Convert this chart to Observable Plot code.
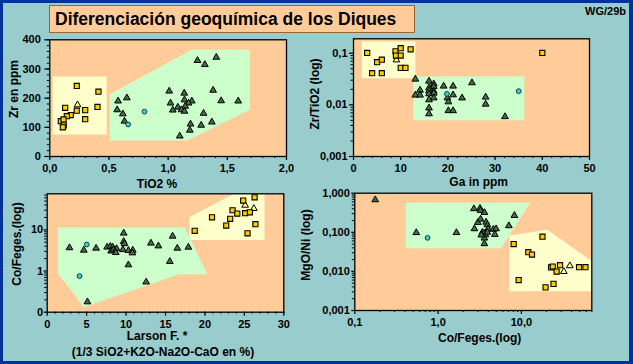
<!DOCTYPE html>
<html><head><meta charset="utf-8">
<script src="https://cdn.jsdelivr.net/npm/d3@7"></script>
<script src="https://cdn.jsdelivr.net/npm/@observablehq/plot@0.6"></script>
<style>
html,body{margin:0;padding:0;}
body{width:633px;height:364px;background:#003399;overflow:hidden;position:relative;}
#wrap{position:absolute;left:3px;top:3px;width:626px;height:358px;background:#99cccc;}
#chart{position:absolute;left:0;top:0;width:633px;height:364px;}
#chart svg{position:absolute;left:0;top:0;}
.lbl{position:absolute;font:bold 12px "Liberation Sans",Arial,sans-serif;color:#000;white-space:nowrap;transform:translate(-50%,-50%);}
.rot{transform:translate(-50%,-50%) rotate(-90deg);}
#title{position:absolute;left:49px;top:5px;width:359px;height:26px;background:#ffcc99;border:1.5px solid #996633;font:bold 17.5px "Liberation Sans",Arial,sans-serif;line-height:26px;padding-left:5px;box-sizing:content-box;white-space:nowrap;}
#code{position:absolute;right:7px;top:5px;font:bold 11px "Liberation Sans",Arial,sans-serif;}
</style>
</head><body>
<div id="wrap"></div>
<div id="title">Diferenciación geoquímica de los Diques</div>
<div id="code">WG/29b</div>
<div id="chart"></div>
<script>
// ---------- Panel 1: TiO2 % vs Zr ppm ----------
const p1Triangles = [[1.248,329],[1.407,340],[1.310,315],[1.009,224],[1.136,217],[1.380,227],[1.448,191],[1.592,190],[1.138,194],[1.020,183],[1.200,190],[1.172,183],[1.082,169],[1.144,172],[1.039,159],[1.113,160],[1.138,155],[1.299,148],[1.189,111],[1.279,107],[1.369,118],[1.183,90],[1.098,70],[0.577,190],[0.651,201],[0.569,160],[0.617,146],[0.631,121]];
const p1Squares = [[0.228,242],[0.411,222],[0.130,167],[0.403,170],[0.228,157],[0.299,159],[0.177,142],[0.144,138],[0.299,128],[0.093,121],[0.116,127],[0.118,107],[0.110,100]];
const p1LightTri = [[0.234,177]];
const p1Cyan = [[0.80,154],[0.662,110]];
const p1Green = [[0.507,55],[1.16,55],[1.69,160],[1.69,366],[1.20,366],[0.507,213]];
const p1Yellow = [[0.025,75],[0.48,75],[0.48,274],[0.025,274]];
const p1XTicks = [0,0.5,1,1.5,2];
const p1XLabels = ["0,0","0,5","1,0","1,5","2,0"];
const p1YTicks = [0,100,200,300,400];
const p1YLabels = ["0","100","200","300","400"];

// ---------- Panel 2: Ga ppm vs Zr/TiO2 ----------
const p2Triangles = [[13.1,0.0314],[16.0,0.0287],[17.0,0.0255],[17.0,0.0226],[19.1,0.0230],[21.1,0.0230],[25.1,0.0267],[16.0,0.0213],[14.1,0.0192],[16.0,0.0187],[17.0,0.0184],[16.0,0.0163],[13.1,0.0154],[14.1,0.0154],[17.0,0.0168],[17.0,0.0136],[21.1,0.0156],[19.9,0.0136],[23.0,0.0136],[28.0,0.0141],[20.1,0.0114],[28.0,0.0103],[16.0,0.0125],[16.0,0.0087],[20.1,0.0077],[21.1,0.0077],[16.0,0.0067],[32.1,0.0059]];
const p2Squares = [[2.9,0.101],[5.0,0.067],[6.0,0.075],[3.95,0.041],[6.0,0.041],[8.9,0.109],[9.0,0.090],[10.0,0.125],[10.0,0.090],[12.1,0.119],[10.0,0.052],[11.0,0.052],[40.0,0.101]];
const p2LightTri = [[9.1,0.074]];
const p2Cyan = [[19.8,0.0163],[35.0,0.0184]];
const p2Green = [[12.7,0.00504],[36.2,0.00504],[36.2,0.0353],[12.7,0.0353]];
const p2Yellow = [[1.77,0.0328],[13.1,0.0328],[13.1,0.168],[1.77,0.168]];
const p2XTicks = [0,10,20,30,40,50];
const p2XLabels = ["0","10","20","30","40","50"];
const p2YTicks = [0.001,0.01,0.1];
const p2YLabels = ["0,001","0,01","0,1"];

// ---------- Panel 3: Larson F. vs Co/Feges ----------
const p3Triangles = [[2.83,3.67],[4.64,3.2],[6.2,3.57],[7.6,3.8],[8.0,3.95],[8.3,3.8],[8.1,3.05],[8.4,3.3],[8.8,3.5],[8.7,2.8],[9.6,3.3],[9.7,5.2],[9.8,4.6],[9.7,8.3],[10.3,3.15],[10.85,3.2],[10.8,2.75],[13.15,4.75],[14.1,4.06],[15.9,7.0],[16.5,3.57],[17.9,3.78],[15.55,1.70],[10.3,1.41],[12.55,0.54],[5.1,0.178]];
const p3Squares = [[24.85,51.4],[26.3,61.8],[23.5,29.9],[24.1,24.9],[25.1,25.3],[25.7,26.7],[20.9,20.2],[23.2,18.5],[22.7,12.7],[26.4,13.7],[18.7,9.46],[25.4,8.26]];
const p3LightTri = [[25.1,39.5],[26.2,32.9]];
const p3Cyan = [[4.1,0.75],[5.02,4.4]];
const p3Green = [[1.39,11.4],[17.45,11.4],[20.3,0.835],[16.7,0.835],[4.64,0.132],[2.74,0.405],[1.39,0.835]];
const p3Yellow = [[18.04,5.7],[27.55,5.7],[27.55,75],[23.66,75],[18.04,20.2]];
const p3XTicks = [0,5,10,15,20,25,30];
const p3XLabels = ["0","5","10","15","20","25","30"];
const p3YTicks = [0.1,1,10];
const p3YLabels = ["0","1","10"];

// ---------- Panel 4: Co/Feges vs MgO/Ni ----------
const p4Triangles = [[0.176,0.678],[0.547,0.098],[1.66,0.098],[2.69,0.40],[3.18,0.41],[3.24,0.36],[3.6,0.32],[3.0,0.178],[3.24,0.216],[3.77,0.181],[3.9,0.155],[2.73,0.123],[8.24,0.269],[7.07,0.147],[3.98,0.123],[4.6,0.119],[4.97,0.123],[3.4,0.10],[3.55,0.095],[3.7,0.086],[3.59,0.071],[3.59,0.051],[4.8,0.088],[3.3,0.085],[3.9,0.1]];
const p4Squares = [[8.07,0.050],[17.9,0.077],[12.1,0.031],[13.4,0.027],[29.1,0.0144],[22.7,0.0126],[23.8,0.0133],[26.5,0.0099],[49.2,0.0128],[58.7,0.0128],[9.27,0.0060],[19.5,0.0039],[24.3,0.0048]];
const p4LightTri = [[38.1,0.0139],[32.3,0.0099]];
const p4Cyan = [[0.748,0.072]];
const p4Green = [[0.41,0.039],[5.69,0.039],[12.8,0.568],[0.41,0.568]];
const p4Yellow = [[7.18,0.00312],[70,0.00312],[70,0.0182],[20.5,0.116],[7.18,0.0828]];
const p4XTicks = [0.1,1,10];
const p4XLabels = ["0,1","1,0","10,0"];
const p4YTicks = [0.001,0.01,0.1,1];
const p4YLabels = ["0,001","0,010","0,100","1,000"];

const COL = {peach:"#ffcc99", green:"#ccffcc", yellow:"#ffffcc", sq:"#ffcc00", tri:"#4a6a4a", light:"#ffff99", cyan:"#44cccc"};

function logMinor(lo, hi){
  const out=[];
  for(let e=Math.floor(Math.log10(lo)); e<=Math.ceil(Math.log10(hi)); e++){
    for(let m=2;m<=9;m++){const v=m*Math.pow(10,e); if(v>=lo && v<=hi) out.push(v);}
  }
  return out;
}
function linMinor(lo, hi, step){
  const out=[]; const n=Math.round((hi-lo)/step);
  for(let i=0;i<=n;i++) out.push(+(lo+i*step).toFixed(6));
  return out;
}
const X = d=>d[0], Y = d=>d[1];

function panel(o){
  const fmt = (ticks, labels) => d => { const i = ticks.findIndex(t => Math.abs(t-d) < 1e-9); return i>=0 ? labels[i] : ""; };
  return Plot.plot({
    width:633, height:364,
    marginLeft:o.m[0], marginRight:633-o.m[1], marginTop:o.m[2], marginBottom:364-o.m[3],
    x:{type:o.xType, domain:o.xDomain},
    y:{type:o.yType, domain:o.yDomain},
    style:{background:"transparent", overflow:"visible", fontFamily:"'Liberation Sans', Arial, sans-serif", fontSize:"11px", fontWeight:"bold", color:"black"},
    marks:[
      Plot.frame({fill:COL.peach, stroke:null}),
      Plot.line(o.yellow, {x:X, y:Y, fill:COL.yellow, stroke:"none"}),
      Plot.line(o.green, {x:X, y:Y, fill:COL.green, stroke:"none"}),
      Plot.axisX({ticks:o.xMinor, tickSize:2, tickFormat:()=>"", label:null}),
      Plot.axisX({ticks:o.xTicks, tickSize:o.tsx, tickPadding:o.tpx, tickFormat:fmt(o.xTicks,o.xLabels), label:null, strokeWidth:1.2}),
      Plot.axisY({ticks:o.yMinor, tickSize:2.5, tickFormat:()=>"", label:null}),
      Plot.axisY({ticks:o.yTicks, tickSize:o.tsy, tickPadding:o.tpy, tickFormat:fmt(o.yTicks,o.yLabels), label:null, strokeWidth:1.2}),
      Plot.frame({stroke:"black", strokeWidth:1.3}),
      Plot.dot(o.tri, {x:X, y:Y, symbol:"triangle", r:2.5, fill:COL.tri, stroke:"black", strokeWidth:1}),
      Plot.dot(o.light, {x:X, y:Y, symbol:"triangle", r:2.5, fill:COL.light, stroke:"black", strokeWidth:1}),
      Plot.dot(o.cyan, {x:X, y:Y, symbol:"circle", r:2.4, fill:COL.cyan, stroke:"#004444", strokeWidth:1}),
      Plot.dot(o.sq, {x:X, y:Y, symbol:"square", r:2.9, fill:COL.sq, stroke:"black", strokeWidth:1.1})
    ]
  });
}

const chart = document.getElementById("chart");
chart.append(panel({m:[49.3,286,39.3,156], xType:"linear", xDomain:[0,2], yType:"linear", yDomain:[0,400],
  xTicks:p1XTicks, xLabels:p1XLabels, yTicks:p1YTicks, yLabels:p1YLabels,
  xMinor:linMinor(0,2,0.1), yMinor:linMinor(0,400,20), tsx:4, tpx:4, tsy:5, tpy:4,
  tri:p1Triangles, sq:p1Squares, light:p1LightTri, cyan:p1Cyan, green:p1Green, yellow:p1Yellow}));
chart.append(panel({m:[353,589,38.3,156], xType:"linear", xDomain:[0,50], yType:"log", yDomain:[0.001,0.19],
  xTicks:p2XTicks, xLabels:p2XLabels, yTicks:p2YTicks, yLabels:p2YLabels,
  xMinor:linMinor(0,50,2), yMinor:logMinor(0.001,0.19), tsx:4, tpx:4, tsy:4, tpy:2,
  tri:p2Triangles, sq:p2Squares, light:p2LightTri, cyan:p2Cyan, green:p2Green, yellow:p2Yellow}));
chart.append(panel({m:[46.7,283.3,193.3,311.7], xType:"linear", xDomain:[0,30], yType:"log", yDomain:[0.1,75],
  xTicks:p3XTicks, xLabels:p3XLabels, yTicks:p3YTicks, yLabels:p3YLabels,
  xMinor:linMinor(0,30,1), yMinor:logMinor(0.1,75), tsx:4, tpx:4, tsy:3, tpy:1,
  tri:p3Triangles, sq:p3Squares, light:p3LightTri, cyan:p3Cyan, green:p3Green, yellow:p3Yellow}));
chart.append(panel({m:[354.3,591.3,192.7,310], xType:"log", xDomain:[0.1,70], yType:"log", yDomain:[0.001,1],
  xTicks:p4XTicks, xLabels:p4XLabels, yTicks:p4YTicks, yLabels:p4YLabels,
  xMinor:logMinor(0.1,70), yMinor:logMinor(0.001,1), tsx:4, tpx:4, tsy:3, tpy:2,
  tri:p4Triangles, sq:p4Squares, light:p4LightTri, cyan:p4Cyan, green:p4Green, yellow:p4Yellow}));

// axis titles
const titles = [
  ["Zr en ppm",14,89,true],["TiO2 %",157,183.5,false],
  ["Zr/TiO2 (log)",315,93.5,true],["Ga in ppm",478.7,181.7,false],
  ["Co/Feges.(log)",16.7,244,true],["Larson F. *",157,336,false],["(1/3 SiO2+K2O-Na2O-CaO en %)",163,351.7,false],
  ["MgO/Ni (log)",306,245,true],["Co/Feges.(log)",479.7,337.7,false]
];
for(const [t,x,y,r] of titles){
  const d=document.createElement("div"); d.className="lbl"+(r?" rot":""); d.textContent=t;
  d.style.left=x+"px"; d.style.top=y+"px"; document.body.append(d);
}
</script>
</body></html>
